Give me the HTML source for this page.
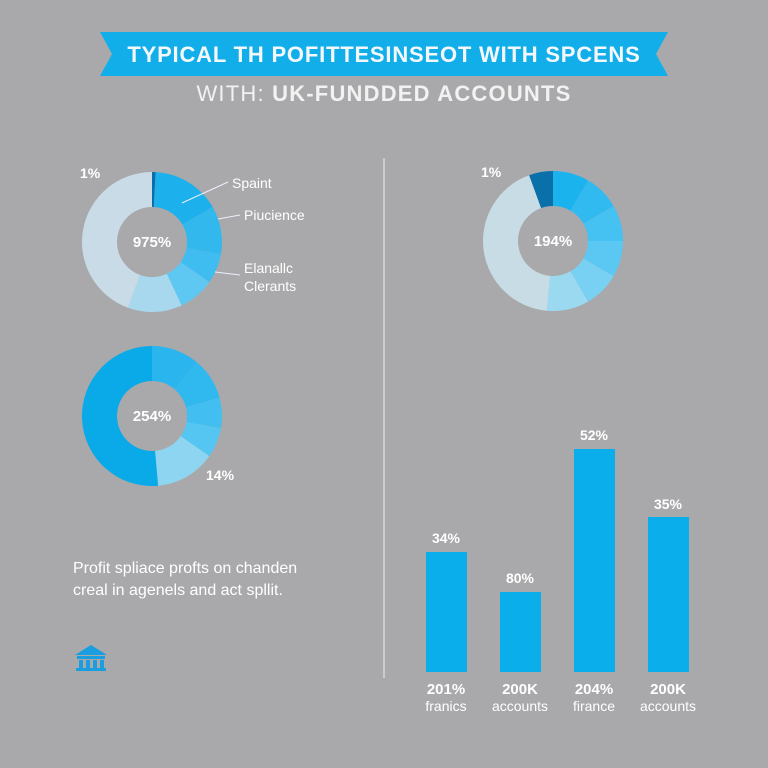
<!DOCTYPE html>
<html><head><meta charset="utf-8"><style>
body{margin:0;background:#a9a9ab;}
svg{display:block;font-family:"Liberation Sans",sans-serif;}
</style></head><body>
<svg id="s" width="768" height="768" viewBox="0 0 768 768">
<rect width="768" height="768" fill="#a9a9ab"/>
<polygon points="100,32 668,32 656,54 668,76 100,76 112,54" fill="#12aeea"/>
<text x="384" y="62" text-anchor="middle" font-size="22" font-weight="bold" letter-spacing="0.8" fill="#f4f8fb">TYPICAL TH POFITTESINSEOT WITH SPCENS</text>
<text x="384" y="101" text-anchor="middle" font-size="22" letter-spacing="1.2" fill="#f2f2f2">WITH: <tspan font-weight="bold">UK-FUNDDED ACCOUNTS</tspan></text>
<line x1="384" y1="158" x2="384" y2="678" stroke="#d8d8d8" stroke-width="1.5"/>
<g id="d"></g>
<g fill="#fff" font-size="14">
<text x="80" y="178" font-weight="bold">1%</text>
<text x="232" y="188">Spaint</text>
<text x="244" y="220">Piucience</text>
<text x="244" y="273">Elanallc</text>
<text x="244" y="291">Clerants</text>
<text x="152" y="247" text-anchor="middle" font-weight="bold" font-size="15">975%</text>
<text x="481" y="177" font-weight="bold">1%</text>
<text x="553" y="246" text-anchor="middle" font-weight="bold" font-size="15">194%</text>
<text x="152" y="421" text-anchor="middle" font-weight="bold" font-size="15">254%</text>
<text x="206" y="480" font-weight="bold">14%</text>
</g>
<g stroke="#eef" stroke-width="1"><line x1="182" y1="203" x2="228" y2="182"/><line x1="218" y1="219" x2="240" y2="215"/><line x1="215" y1="272" x2="240" y2="275"/></g>
<text x="73" y="573" font-size="16" fill="#fff">Profit spliace profts on chanden</text>
<text x="73" y="595" font-size="16" fill="#fff">creal in agenels and act spllit.</text>
<g fill="#1a9ee0"><polygon points="75,655 91,645 107,655"/><rect x="77" y="656" width="28" height="3"/><rect x="79" y="660" width="4" height="8"/><rect x="86" y="660" width="4" height="8"/><rect x="93" y="660" width="4" height="8"/><rect x="100" y="660" width="4" height="8"/><rect x="76" y="668" width="30" height="3"/></g>
<g fill="#0aaeea"><rect x="426" y="552" width="41" height="120"/><rect x="500" y="592" width="41" height="80"/><rect x="574" y="449" width="41" height="223"/><rect x="648" y="517" width="41" height="155"/></g>
<g fill="#fff" font-size="14" text-anchor="middle" font-weight="bold">
<text x="446" y="543">34%</text><text x="520" y="583">80%</text><text x="594" y="440">52%</text><text x="668" y="509">35%</text>
<text x="446" y="694" font-size="15">201%</text><text x="520" y="694" font-size="15">200K</text><text x="594" y="694" font-size="15">204%</text><text x="668" y="694" font-size="15">200K</text>
</g>
<g fill="#fff" font-size="14" text-anchor="middle">
<text x="446" y="711">franics</text><text x="520" y="711">accounts</text><text x="594" y="711">firance</text><text x="668" y="711">accounts</text>
</g>
</svg>
<script>
function arc(cx,cy,R,r,a0,a1,c){function pt(rad,a){const t=(a-90)*Math.PI/180;return (cx+rad*Math.cos(t)).toFixed(2)+","+(cy+rad*Math.sin(t)).toFixed(2);}
const l=(a1-a0)>180?1:0;return `<path d="M${pt(R,a0)} A${R},${R} 0 ${l} 1 ${pt(R,a1)} L${pt(r,a1)} A${r},${r} 0 ${l} 0 ${pt(r,a0)}Z" fill="${c}"/>`;}
const D=[[152,242,[[0,3,"#0a6fa8"],[3,60,"#1cb0ec"],[60,100,"#33b8ee"],[100,125,"#40bdf0"],[125,155,"#5fc8f2"],[155,200,"#a8d8ee"],[200,360,"#c8dbe6"]]],
[553,241,[[-20,0,"#0a70aa"],[0,30,"#1ab3ee"],[30,60,"#30baf0"],[60,90,"#45c1f2"],[90,120,"#5ac8f3"],[120,150,"#78d0f2"],[150,185,"#9bd9f0"],[185,340,"#c8dce6"]]],
[152,416,[[0,40,"#2ab5ee"],[40,75,"#30b9ef"],[75,100,"#42bff0"],[100,125,"#55c5f2"],[125,175,"#8ed5f2"],[175,360,"#0aa9e8"]]]];
let h="";D.forEach(d=>d[2].forEach(s=>h+=arc(d[0],d[1],70,35,s[0],s[1],s[2])));
document.getElementById("d").innerHTML=h;
</script>
</body></html>
